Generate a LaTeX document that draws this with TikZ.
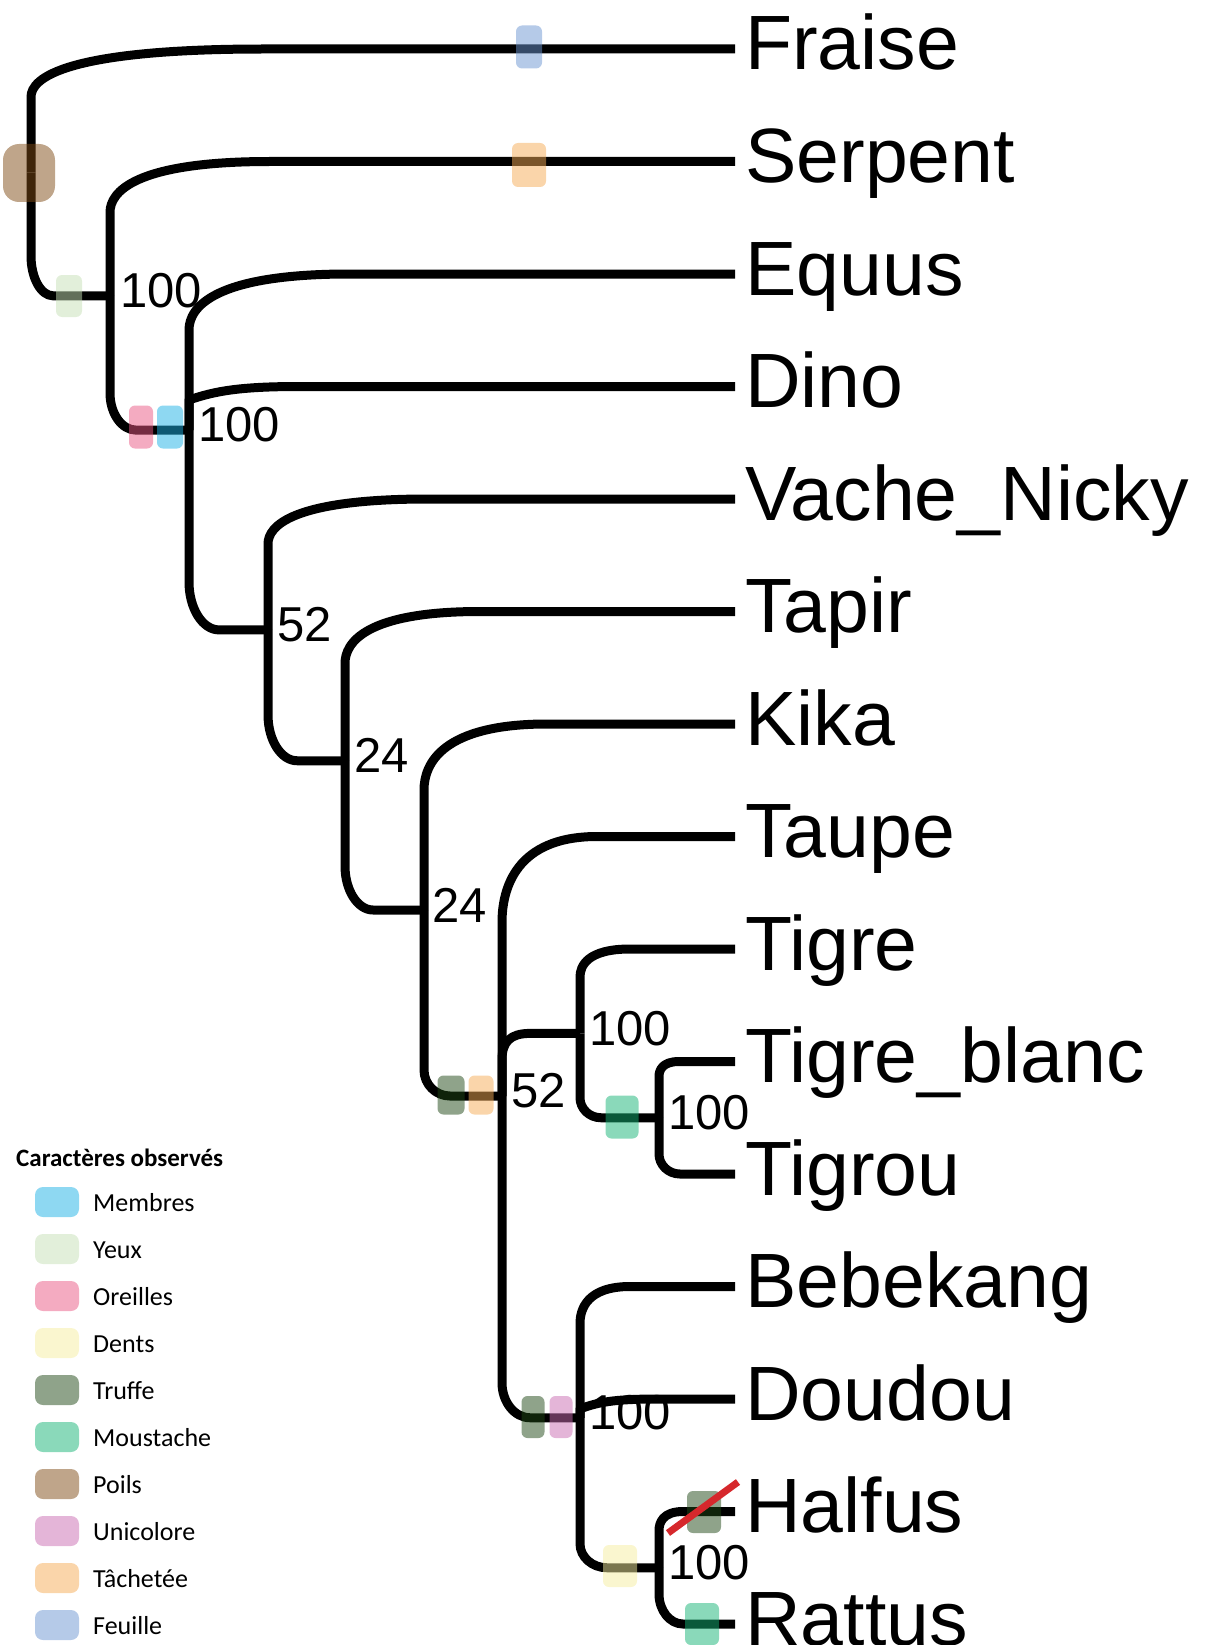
\documentclass[tikz,border=0pt]{standalone}
\usepackage{fontspec}
\setmainfont{Liberation Sans}
\newfontfamily\legfont{Carlito}
\definecolor{cMembres}{RGB}{29,177,229}
\definecolor{cYeux}{RGB}{197,223,181}
\definecolor{cOreilles}{RGB}{233,87,131}
\definecolor{cDents}{RGB}{245,237,159}
\definecolor{cTruffe}{RGB}{31,71,21}
\definecolor{cMoustache}{RGB}{21,179,117}
\definecolor{cPoils}{RGB}{127,75,21}
\definecolor{cUnicolore}{RGB}{201,107,177}
\definecolor{cTachetee}{RGB}{245,171,85}
\definecolor{cFeuille}{RGB}{107,149,209}
\definecolor{cRed}{RGB}{214,40,44}
\tikzset{
  br/.style={line width=9pt, line join=round, line cap=butt},
  blab/.style={anchor=west, inner sep=0pt, font=\fontsize{49}{49}\selectfont},
  tiplab/.style={anchor=base west, inner sep=0pt, font=\fontsize{77}{77}\selectfont},
  mk/.style={rectangle, fill=#1, fill opacity=0.5, draw=none, inner sep=0pt, rounded corners=6pt},
  legtxt/.style={anchor=base west, inner sep=0pt, font=\legfont\fontsize{26}{26}\selectfont},
  legtitle/.style={anchor=base west, inner sep=0pt, font=\legfont\bfseries\fontsize{25}{25}\selectfont},
}
% parent, child, parent x, child y, vertical extent, horizontal extent
\newcommand\upedge[6]{\draw[br] (#1) -- (#3,#4+#5) .. controls (#3,#4+0.6*#5) and (#3+0.15*#6,#4) .. (#3+#6,#4) -- (#2);}
\newcommand\dnedge[6]{\draw[br] (#1) -- (#3,#4-#5) .. controls (#3,#4-0.45*#5) and (#3+0.45*#6,#4) .. (#3+#6,#4) -- (#2);}
\begin{document}
\begin{tikzpicture}[x=1pt,y=-1pt]
\useasboundingbox (0,0) rectangle (1205,1645);
% internal nodes
\coordinate (nR) at (31,172.4);
\coordinate (nA) at (110,295.8);
\coordinate (nB) at (189,430.1);
\coordinate (nC) at (268,629.9);
\coordinate (nD) at (345,760.75);
\coordinate (nE) at (424,910);
\coordinate (nF) at (502,1096);
\coordinate (nG) at (580,1033.4);
\coordinate (nI) at (659,1117.75);
\coordinate (nH) at (580,1417.75);
\coordinate (nJ) at (659,1567.75);
% tips
\coordinate (tFraise) at (735,49);
\coordinate (tSerpent) at (735,161.5);
\coordinate (tEquus) at (735,274);
\coordinate (tDino) at (735,386.5);
\coordinate (tVache) at (735,499);
\coordinate (tTapir) at (735,611.5);
\coordinate (tKika) at (735,724);
\coordinate (tTaupe) at (735,836.5);
\coordinate (tTigre) at (735,949);
\coordinate (tTigreb) at (735,1061.5);
\coordinate (tTigrou) at (735,1174);
\coordinate (tBebekang) at (735,1286.5);
\coordinate (tDoudou) at (735,1399);
\coordinate (tHalfus) at (735,1511.5);
\coordinate (tRattus) at (735,1624);
% tip labels
\node[tiplab] (lFraise) at (745,70) {Fraise};
\node[tiplab] (lSerpent) at (745,182.5) {Serpent};
\node[tiplab] (lEquus) at (745,295) {Equus};
\node[tiplab] (lDino) at (745,407.5) {Dino};
\node[tiplab] (lVache) at (745,520) {Vache\_Nicky};
\node[tiplab] (lTapir) at (745,632.5) {Tapir};
\node[tiplab] (lKika) at (745,745) {Kika};
\node[tiplab] (lTaupe) at (745,857.5) {Taupe};
\node[tiplab] (lTigre) at (745,970) {Tigre};
\node[tiplab] (lTigreb) at (745,1082.5) {Tigre\_blanc};
\node[tiplab] (lTigrou) at (745,1195) {Tigrou};
\node[tiplab] (lBebekang) at (745,1307.5) {Bebekang};
\node[tiplab] (lDoudou) at (745,1420) {Doudou};
\node[tiplab] (lHalfus) at (745,1532.5) {Halfus};
\node[tiplab] (lRattus) at (745,1645) {Rattus};
% support values
\node[blab] (sA) at (120,290.8) {100};
\node[blab] (sB) at (198,425.1) {100};
\node[blab] (sC) at (277,624.9) {52};
\node[blab] (sD) at (354,755.75) {24};
\node[blab] (sE) at (432,905) {24};
\node[blab] (sF) at (511,1091) {52};
\node[blab] (sG) at (589,1028.4) {100};
\node[blab] (sI) at (668,1112.75) {100};
\node[blab] (sH) at (589,1412.75) {100};
\node[blab] (sJ) at (668,1562.75) {100};
% branches
\upedge{nR}{tFraise}{31}{49}{48}{233}
\dnedge{nR}{nA}{31}{295.8}{40}{22}
\upedge{nA}{tSerpent}{110}{161.5}{51}{160}
\dnedge{nA}{nB}{110}{430.1}{37}{26}
\upedge{nB}{tEquus}{189}{274}{56}{160}
\draw[br] (nB) -- (189,400) .. controls (215,391) and (240,386.5) .. (300,386.5) -- (tDino);
\dnedge{nB}{nC}{189}{629.9}{48}{30}
\upedge{nC}{tVache}{268}{499}{45}{160}
\dnedge{nC}{nD}{268}{760.75}{46}{29}
\upedge{nD}{tTapir}{345}{611.5}{52}{135}
\dnedge{nD}{nE}{345}{910}{44}{28}
\upedge{nE}{tKika}{424}{724}{66}{123}
\dnedge{nE}{nF}{424}{1096}{26}{26}
\upedge{nF}{tTaupe}{502}{836.5}{86}{95}
\draw[br] (nF) -- (502,1060) .. controls (502,1042) and (510,1033.4) .. (530,1033.4) -- (nG);
\dnedge{nF}{nH}{502}{1417.75}{35}{28}
\upedge{nG}{tTigre}{580}{949}{28}{50}
\dnedge{nG}{nI}{580}{1117.75}{20}{21}
\upedge{nI}{tTigreb}{659}{1061.5}{15}{20}
\dnedge{nI}{tTigrou}{659}{1174}{20}{21}
\upedge{nH}{tBebekang}{580}{1286.5}{37}{50}
\draw[br] (nH) -- (580,1409) .. controls (600,1401) and (620,1399) .. (660,1399) -- (tDoudou);
\dnedge{nH}{nJ}{580}{1567.75}{24}{27}
\upedge{nJ}{tHalfus}{659}{1511.5}{19}{24}
\dnedge{nJ}{tRattus}{659}{1624}{30}{24}
% character marks
\node[mk=cFeuille, minimum width=26pt, minimum height=43pt] (mFeuille) at (529,47) {};
\node[mk=cTachetee, minimum width=34pt, minimum height=44pt] (mTach1) at (529,165) {};
\node[mk=cPoils, minimum width=52pt, minimum height=58pt, rounded corners=16pt] (mPoils) at (29,173) {};
\node[mk=cYeux, minimum width=26pt, minimum height=42pt] (mYeux) at (69,296) {};
\node[mk=cOreilles, minimum width=24pt, minimum height=43pt] (mOreilles) at (141,427) {};
\node[mk=cMembres, minimum width=26pt, minimum height=43pt] (mMembres) at (170,427) {};
\node[mk=cTruffe, minimum width=27pt, minimum height=39pt] (mTruffe1) at (451,1095) {};
\node[mk=cTachetee, minimum width=25pt, minimum height=39pt] (mTach2) at (481,1095) {};
\node[mk=cMoustache, minimum width=33pt, minimum height=43pt] (mMous1) at (622,1117) {};
\node[mk=cTruffe, minimum width=23pt, minimum height=42pt] (mTruffe2) at (533,1417) {};
\node[mk=cUnicolore, minimum width=23pt, minimum height=42pt] (mUni) at (561,1417) {};
\node[mk=cDents, minimum width=34pt, minimum height=42pt] (mDents) at (620,1566) {};
\node[mk=cTruffe, minimum width=34pt, minimum height=42pt] (mTruffe3) at (704,1512) {};
\node[mk=cMoustache, minimum width=34pt, minimum height=42pt] (mMous2) at (702,1624) {};
% loss mark
\coordinate (rA) at (668,1533);
\coordinate (rB) at (738,1482);
\draw[line width=7pt, cRed] (rA) -- (rB);
% legend
\node[legtitle] (legT) at (16,1166) {Caractères observés};
\foreach \c/\t [count=\i from 0] in {cMembres/Membres, cYeux/Yeux, cOreilles/Oreilles, cDents/Dents, cTruffe/Truffe, cMoustache/Moustache, cPoils/Poils, cUnicolore/Unicolore, cTachetee/Tâchetée, cFeuille/Feuille}{
  \node[mk=\c, minimum width=44pt, minimum height=30pt, rounded corners=8pt] (k\i) at (57,1202+47*\i) {};
  \node[legtxt] (kt\i) at (93,1211+47*\i) {\t};
}
\end{tikzpicture}
\end{document}
